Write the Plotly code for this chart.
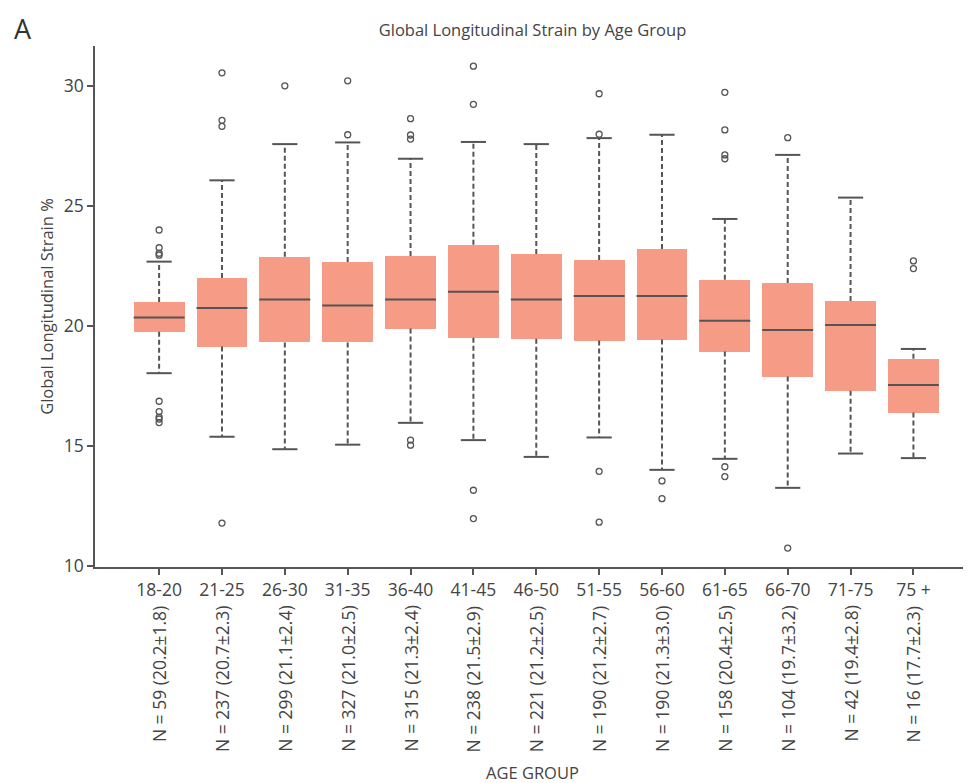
import plotly.graph_objects as go

age_groups = ["18-20", "21-25", "26-30", "31-35", "36-40", "41-45", "46-50",
              "51-55", "56-60", "61-65", "66-70", "71-75", "75 +"]
n_labels = ["N = 59 (20.2±1.8)", "N = 237 (20.7±2.3)", "N = 299 (21.1±2.4)",
            "N = 327 (21.0±2.5)", "N = 315 (21.3±2.4)", "N = 238 (21.5±2.9)",
            "N = 221 (21.2±2.5)", "N = 190 (21.2±2.7)", "N = 190 (21.3±3.0)",
            "N = 158 (20.4±2.5)", "N = 104 (19.7±3.2)", "N = 42 (19.4±2.8)",
            "N = 16 (17.7±2.3)"]

q1 = [19.76, 19.14, 19.31, 19.31, 19.89, 19.51, 19.47, 19.39, 19.43, 18.93, 17.89, 17.30, 16.39]
median = [20.35, 20.75, 21.10, 20.85, 21.10, 21.43, 21.10, 21.25, 21.25, 20.22, 19.83, 20.04, 17.54]
q3 = [21.00, 22.00, 22.88, 22.67, 22.92, 23.38, 23.00, 22.75, 23.21, 21.92, 21.79, 21.04, 18.63]
lower_whisker = [18.03, 15.38, 14.86, 15.05, 15.96, 15.24, 14.54, 15.35, 14.00, 14.46, 13.25, 14.68, 14.49]
upper_whisker = [22.68, 26.07, 27.58, 27.65, 26.97, 27.67, 27.58, 27.83, 27.97, 24.46, 27.13, 25.35, 19.04]

outliers = [
    [24.0, 23.26, 23.03, 22.95, 16.86, 16.43, 16.2, 16.12, 15.97],
    [30.55, 28.57, 28.32, 11.78],
    [30.01],
    [30.22, 27.97],
    [28.64, 27.96, 27.79, 15.24, 15.03],
    [30.83, 29.24, 13.15, 11.97],
    [],
    [29.68, 27.99, 13.94, 11.82],
    [13.54, 12.8],
    [29.74, 28.17, 27.13, 26.97, 14.13, 13.72],
    [27.85, 10.74],
    [],
    [22.71, 22.39],
]

BOX_COLOR = "#F59B86"
DARK = "#555555"
TEXT = "#444444"
FONT = "Open Sans"

xs = list(range(len(age_groups)))

fig = go.Figure()

# whiskers (dashed)
wx, wy = [], []
for i in xs:
    wx += [i, i, None, i, i, None]
    wy += [q3[i], upper_whisker[i], None, q1[i], lower_whisker[i], None]
fig.add_trace(go.Scatter(x=wx, y=wy, mode="lines",
                         line=dict(color=DARK, width=2, dash="5px,3px"),
                         hoverinfo="skip", showlegend=False))

# caps
fig.add_trace(go.Scatter(x=xs + xs, y=upper_whisker + lower_whisker, mode="markers",
                         marker=dict(symbol="line-ew", size=18,
                                     line=dict(color=DARK, width=2)),
                         hoverinfo="skip", showlegend=False))

# boxes
fig.add_trace(go.Bar(x=xs, y=[q3[i] - q1[i] for i in xs], base=q1, width=0.81,
                     marker=dict(color=BOX_COLOR, line=dict(width=0)),
                     showlegend=False))

# medians
fig.add_trace(go.Scatter(x=xs, y=median, mode="markers",
                         marker=dict(symbol="line-ew", size=36.4,
                                     line=dict(color=DARK, width=2)),
                         showlegend=False))

# outliers
ox, oy = [], []
for i in xs:
    for v in outliers[i]:
        ox.append(i)
        oy.append(v)
fig.add_trace(go.Scatter(x=ox, y=oy, mode="markers",
                         marker=dict(symbol="circle-open", size=6,
                                     color=DARK, line=dict(color=DARK, width=1.3)),
                         showlegend=False))

# rotated N labels
for i in xs:
    fig.add_annotation(x=i, y=-0.071, xref="x", yref="paper", text=n_labels[i],
                       textangle=-90, showarrow=False, xanchor="center", yanchor="top",
                       font=dict(family=FONT, size=17.5, color=TEXT))

fig.add_annotation(x=0.5, y=-0.3935, xref="paper", yref="paper", text="AGE GROUP",
                   showarrow=False, xanchor="center", yanchor="middle",
                   font=dict(family=FONT, size=16.5, color=TEXT))

fig.add_annotation(x=-0.095, y=1.073, xref="paper", yref="paper", text="A",
                   showarrow=False, xanchor="left", yanchor="top",
                   font=dict(family=FONT, size=27, color="#333333"))

fig.update_layout(
    width=963, height=775,
    margin=dict(l=87, r=1, t=38, b=216),
    paper_bgcolor="white", plot_bgcolor="white",
    bargap=0,
    title=dict(text="Global Longitudinal Strain by Age Group",
               x=0.5, xref="paper", y=0.9716, yanchor="middle",
               font=dict(family=FONT, size=16.5, color=TEXT)),
    font=dict(family=FONT, color=TEXT),
    xaxis=dict(range=[-1.02, 12.9], tickvals=xs, ticktext=age_groups,
               showgrid=False, zeroline=False, showline=True, linecolor=DARK,
               linewidth=1.5, ticks="outside", ticklen=6, tickwidth=1.5,
               tickcolor=DARK, tickfont=dict(size=17.5, color=TEXT)),
    yaxis=dict(range=[9.95, 31.67], tickvals=[10, 15, 20, 25, 30],
               showgrid=False, zeroline=False, showline=True, linecolor=DARK,
               linewidth=1.5, ticks="outside", ticklen=6, tickwidth=1.5,
               tickcolor=DARK, tickfont=dict(size=17.5, color=TEXT),
               title=dict(text="Global Longitudinal Strain %",
                          font=dict(size=16.5, color=TEXT), standoff=6)),
)

fig.write_html("out.html")
